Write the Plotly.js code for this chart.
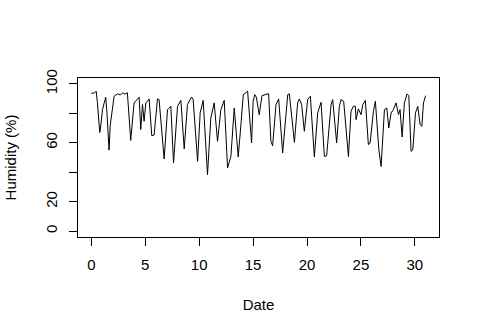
<!DOCTYPE html>
<html>
<head>
<meta charset="utf-8">
<script src="https://cdn.plot.ly/plotly-3.0.1.min.js"></script>
<style>html,body{margin:0;padding:0;background:#fff;}#chart{width:480px;height:335px;}</style>
</head>
<body>
<div id="chart"></div>
<script>
const days = [0, 0.3, 0.45, 0.55, 0.78, 0.85, 1.03, 1.33, 1.45, 1.64,
  1.75, 2.11, 2.42, 2.7, 2.9, 3.1, 3.34, 3.5, 3.65, 3.96,
  4.27, 4.43, 4.58, 4.74, 4.89, 5.05, 5.36, 5.6, 5.82, 6.13,
  6.28, 6.75, 7.06, 7.37, 7.62, 7.99, 8.30, 8.61, 8.91, 9.29,
  9.44, 9.85, 10.09, 10.37, 10.77, 11.08, 11.39, 11.70, 12.01, 12.32,
  12.63, 12.94, 13.25, 13.62, 13.87, 14.09, 14.49, 14.86, 15.0, 15.15,
  15.3, 15.45, 15.57, 15.82, 16.35, 16.44, 16.65, 16.81, 17.12, 17.37,
  17.74, 17.99, 18.21, 18.36, 18.83, 19.13, 19.29, 19.50, 19.75, 20.06,
  20.31, 20.68, 20.99, 21.30, 21.61, 21.82, 22.23, 22.38, 22.75, 23.00,
  23.15, 23.40, 23.84, 24.08, 24.30, 24.48, 24.55, 24.76, 25.01, 25.17,
  25.41, 25.69, 25.85, 26.16, 26.34, 26.66, 26.87, 27.18, 27.40, 27.58,
  27.80, 28.01, 28.26, 28.48, 28.63, 28.82, 29.03, 29.28, 29.44, 29.65,
  29.81, 30.06, 30.27, 30.49, 30.65, 30.80, 31.0];
const humidity = [93.5, 94, 95, 88, 67, 70, 82.5, 91, 80, 55,
  72, 91.6, 93.2, 92.5, 94, 93, 94, 80, 61.6, 87,
  89.3, 91, 69, 86, 74.6, 87, 89.8, 64.8, 65.3, 89.8,
  89.3, 49, 82.5, 84.8, 46.3, 84.8, 88.8, 55.8, 85.9, 91.1,
  89.3, 47.4, 80.3, 88.8, 38.3, 76.9, 87.1, 61, 82.5, 88.8,
  42.9, 50.7, 83.6, 50.3, 72.3, 92.7, 95, 59.9, 88, 92.7,
  91, 82, 79, 92, 93.2, 93.4, 61, 58, 85.9, 89.8,
  53.1, 75.7, 92.7, 93.2, 60.3, 87.1, 89.8, 85.9, 67.8, 89.3,
  91.6, 50.3, 80.3, 87.5, 50.7, 51.2, 85.9, 89.3, 59.9, 84.8,
  89.3, 88.2, 50.7, 81.4, 84.8, 84.8, 75.7, 83, 79.1, 85.9,
  88.8, 58.7, 59.9, 81.4, 88.2, 55.3, 43.9, 82.5, 83.6, 70,
  80.3, 82.5, 87.1, 79.1, 82.5, 63.9, 87.1, 93.2, 92, 54.2,
  55.3, 80.3, 84.8, 72.3, 71.2, 87.1, 92];
const xTickVals = [0, 5, 10, 15, 20, 25, 30];
const yTickVals = [0, 20, 40, 60, 80, 100];
const yTickText = ['0', '20', '', '60', '', '100'];

const font = {family: '"Liberation Sans", Arial, sans-serif', size: 15, color: '#000'};

Plotly.newPlot('chart', [{
  x: days, y: humidity, type: 'scatter', mode: 'lines',
  line: {color: '#000', width: 1}, hoverinfo: 'skip'
}], {
  width: 480, height: 335,
  margin: {l: 78, r: 41, t: 78, b: 98},
  paper_bgcolor: '#fff', plot_bgcolor: '#fff',
  font: font,
  showlegend: false,
  xaxis: {
    range: [-1.24, 32.24], tickvals: xTickVals, ticktext: xTickVals.map(String),
    showgrid: false, zeroline: false, showline: true, mirror: true,
    linecolor: '#000', linewidth: 1,
    ticks: 'outside', ticklen: 8, tickcolor: '#000', tickwidth: 1,
    ticklabelstandoff: 6,
    title: {text: 'Date', font: font, standoff: 27},
    automargin: false
  },
  yaxis: {
    range: [-4, 104], tickvals: yTickVals, ticktext: yTickText, tickangle: -90,
    showgrid: false, zeroline: false, showline: true, mirror: true,
    linecolor: '#000', linewidth: 1,
    ticks: 'outside', ticklen: 8, tickcolor: '#000', tickwidth: 1,
    ticklabelstandoff: 6,
    title: {text: 'Humidity (%)', font: font, standoff: 22},
    automargin: false
  }
}, {staticPlot: true});
</script>
</body>
</html>
